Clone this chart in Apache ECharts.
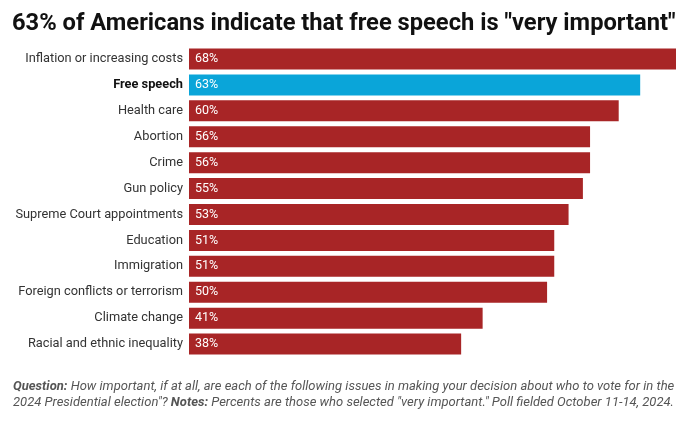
<!DOCTYPE html>
<html>
<head>
<meta charset="utf-8">
<script src="https://cdn.jsdelivr.net/npm/echarts@6/dist/echarts.min.js"></script>
<style>html,body{margin:0;padding:0;background:#fff}#c{width:687px;height:424px}</style>
</head>
<body>
<div id="c"></div>
<script>
const categories = ["Inflation or increasing costs","Free speech","Health care","Abortion","Crime","Gun policy","Supreme Court appointments","Education","Immigration","Foreign conflicts or terrorism","Climate change","Racial and ethnic inequality"];
const values = [68,63,60,56,56,55,53,51,51,50,41,38];
const highlight = "Free speech";
const titleText = '63% of Americans indicate that free speech is "very important"';

const chart = echarts.init(document.getElementById('c'));
const RED = '#a82526', BLUE = '#0aa5d9';
chart.setOption({
  backgroundColor: '#fff',
  animation: false,
  title: [{
    text: titleText,
    left: 7, top: 7,
    textStyle: {fontFamily: 'Roboto', fontWeight: 'bold', fontSize: 23.7, color: '#111'}
  },{
    text: '{b|Question:} How important, if at all, are each of the following issues in making your decision about who to vote for in the\n2024 Presidential election"? {b|Notes:} Percents are those who selected "very important." Poll fielded October 11-14, 2024.',
    left: 8, top: 374,
    textStyle: {
      fontFamily: 'Roboto', fontStyle: 'italic', fontSize: 13, color: '#555', lineHeight: 15.5, fontWeight: 'normal',
      rich: {b: {fontFamily: 'Roboto', fontStyle: 'italic', fontWeight: 'bold', fontSize: 13, color: '#555', lineHeight: 15.5}}
    }
  }],
  grid: {left: 189, right: 11, top: 46, bottom: 67, containLabel: false},
  xAxis: {type: 'value', min: 0, max: 68, show: false},
  yAxis: {
    type: 'category', data: categories, inverse: true,
    axisLine: {show: false}, axisTick: {show: false},
    axisLabel: {
      margin: 6, fontFamily: 'Roboto', fontSize: 12.8, color: '#333',
      formatter: v => v === highlight ? '{b|' + v + '}' : v,
      rich: {b: {fontFamily: 'Roboto', fontWeight: 'bold', fontSize: 12.8, color: '#111'}}
    }
  },
  series: [{
    type: 'bar',
    data: values.map((v, i) => ({value: v, itemStyle: {color: categories[i] === highlight ? BLUE : RED}})),
    barWidth: 21,
    label: {
      show: true, position: 'insideLeft', distance: 6,
      formatter: p => p.value + '%',
      fontFamily: 'Roboto', fontSize: 12.5, color: '#fff'
    }
  }]
});
</script>
</body>
</html>
